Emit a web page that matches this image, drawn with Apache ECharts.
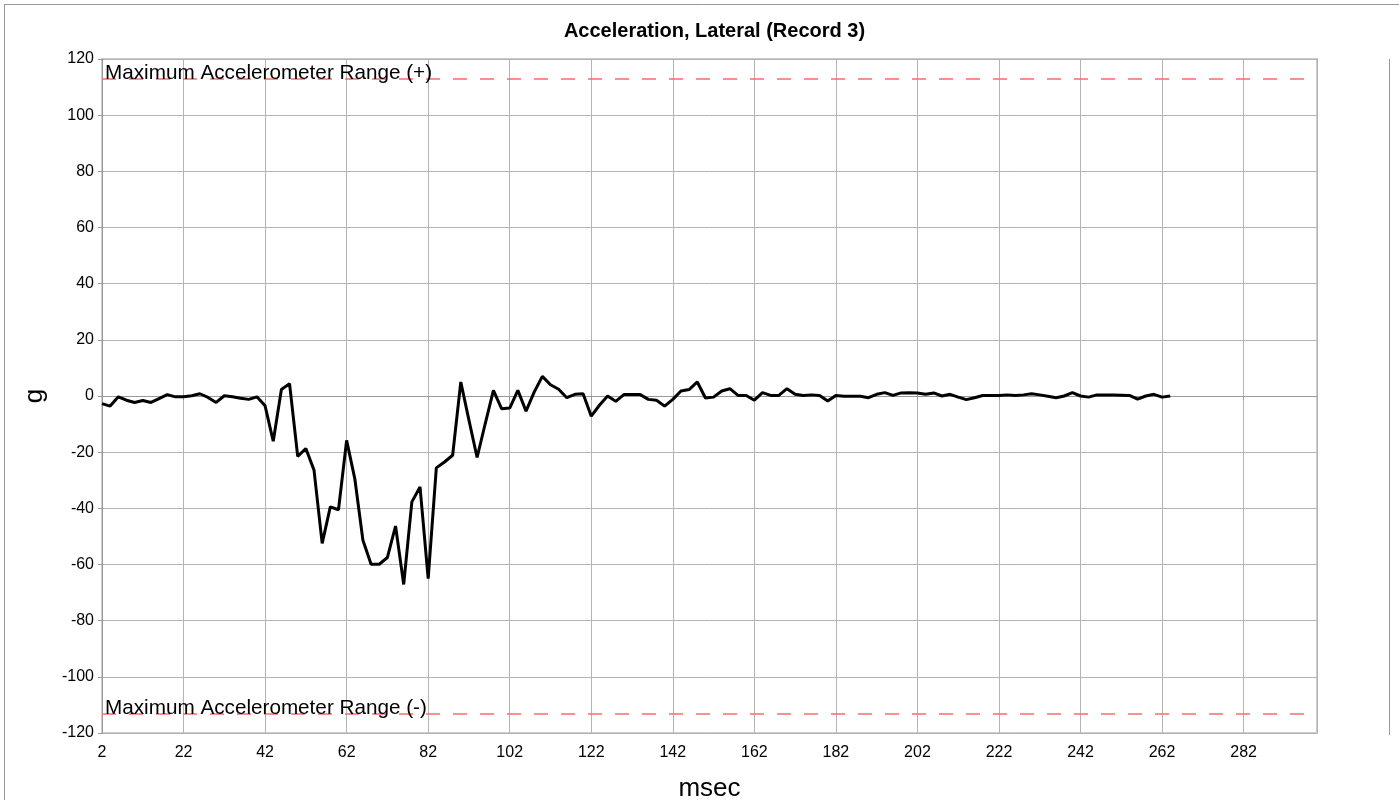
<!DOCTYPE html>
<html>
<head>
<meta charset="utf-8">
<script src="https://cdn.jsdelivr.net/npm/echarts@6/dist/echarts.min.js"></script>
<style>
  html, body { margin: 0; padding: 0; background: #fff; }
  #chart { width: 1399px; height: 800px; }
</style>
</head>
<body>
<div id="chart"></div>
<script>
  // sample times (msec)
  var msec = [
    2, 4, 6, 8, 10, 12, 14, 16, 18, 20, 22, 24, 26, 28, 30, 32, 34, 36, 38, 40,
    42, 44, 46, 48, 50, 52, 54, 56, 58, 60, 62, 64, 66, 68, 70, 72, 74, 76, 78, 80,
    82, 84, 86, 88, 90, 92, 94, 96, 98, 100, 102, 104, 106, 108, 110, 112, 114, 116, 118, 120,
    122, 124, 126, 128, 130, 132, 134, 136, 138, 140, 142, 144, 146, 148, 150, 152, 154, 156, 158, 160,
    162, 164, 166, 168, 170, 172, 174, 176, 178, 180, 182, 184, 186, 188, 190, 192, 194, 196, 198, 200,
    202, 204, 206, 208, 210, 212, 214, 216, 218, 220, 222, 224, 226, 228, 230, 232, 234, 236, 238, 240,
    242, 244, 246, 248, 250, 252, 254, 256, 258, 260, 262, 264
  ]
  // lateral acceleration (g)
  var accel = [
    -2.7, -3.6, -0.3, -1.5, -2.3, -1.6, -2.3, -0.9, 0.5, -0.3, -0.3, 0.1, 0.8, -0.5, -2.3, 0.1, -0.3, -0.8, -1.2, -0.3,
    -3.5, -16.1, 2.3, 4.4, -21.5, -18.7, -26.4, -52.5, -39.5, -40.5, -15.8, -29.4, -51.4, -59.9, -59.9, -57.5, -46.3, -67.1, -37.7, -32.4,
    -65, -25.6, -23.5, -21.1, 5.0, -8.6, -21.9, -9.8, 2.0, -4.5, -4.3, 2.0, -5.4, 1.4, 7.0, 4.0, 2.4, -0.6, 0.6, 0.8,
    -7.2, -3.3, 0, -1.9, 0.5, 0.5, 0.5, -1.2, -1.5, -3.6, -1.2, 1.8, 2.3, 5.0, -0.7, -0.4, 1.8, 2.6, 0.2, 0.2,
    -1.5, 1.2, 0.2, 0.2, 2.6, 0.6, 0.2, 0.4, 0.2, -1.8, 0.2, -0.1, -0.1, -0.1, -0.6, 0.6, 1.2, 0.2, 1.1, 1.2,
    1.1, 0.6, 1.1, 0, 0.6, -0.4, -1.3, -0.6, 0.2, 0.2, 0.2, 0.4, 0.2, 0.4, 0.8, 0.4, -0.1, -0.6, 0, 1.2,
    0, -0.4, 0.4, 0.4, 0.4, 0.3, 0.2, -1.1, 0, 0.6, -0.4, 0
  ]
  // accelerometer range limits
  var rangeLimits = [113, -113]
  var rangeLabels = ['Maximum Accelerometer Range (+)', 'Maximum Accelerometer Range (-)']

  var points = msec.map(function (t, i) { return [t, accel[i]] })

  var chart = echarts.init(document.getElementById('chart'))
  var option = {
    animation: false,
    textStyle: { fontFamily: 'Liberation Sans, Arial, sans-serif' },
    title: {
      text: 'Acceleration, Lateral (Record 3)',
      left: 709.5,
      textAlign: 'center',
      top: 16,
      textStyle: { fontSize: 20, fontWeight: 'bold', color: '#000', fontFamily: 'Liberation Sans, Arial, sans-serif' }
    },
    graphic: [
      { type: 'line', shape: { x1: 4.5, y1: 4, x2: 4.5, y2: 800 }, style: { stroke: '#999', lineWidth: 1 } },
      { type: 'line', shape: { x1: 4, y1: 4.5, x2: 1399, y2: 4.5 }, style: { stroke: '#999', lineWidth: 1 } },
      { type: 'line', shape: { x1: 1389.5, y1: 59, x2: 1389.5, y2: 735 }, style: { stroke: '#999', lineWidth: 1 } }
    ],
    grid: {
      left: 102, right: 82, top: 59, bottom: 67,
      show: true, borderColor: '#cccccc', borderWidth: 2,
      containLabel: false, outerBoundsMode: 'none'
    },
    xAxis: {
      type: 'value',
      min: 2, max: 300, interval: 20,
      name: 'msec',
      nameLocation: 'middle',
      nameGap: 43,
      nameTextStyle: { fontSize: 26, color: '#000' },
      axisLine: { lineStyle: { color: '#999', width: 1 } },
      axisTick: { show: true, length: 4, lineStyle: { color: '#999' } },
      axisLabel: { fontSize: 16, color: '#000', margin: 12, showMaxLabel: false },
      splitLine: { show: true, lineStyle: { color: '#b3b3b3', width: 1 } }
    },
    yAxis: {
      type: 'value',
      min: -120, max: 120, interval: 20,
      name: 'g',
      nameLocation: 'middle',
      nameGap: 54,
      nameTextStyle: { fontSize: 26, color: '#000' },
      axisLine: { show: true, lineStyle: { color: '#999', width: 1 } },
      axisTick: { show: true, length: 4, lineStyle: { color: '#999' } },
      axisLabel: { fontSize: 16, color: '#000', margin: 8 },
      splitLine: { show: true, lineStyle: { color: '#b3b3b3', width: 1 } }
    },
    series: [{
      type: 'line',
      data: points,
      showSymbol: false,
      symbol: 'none',
      lineStyle: { color: '#000', width: 3 },
      z: 5,
      markLine: {
        silent: true,
        symbol: 'none',
        lineStyle: { color: '#ff6b6b', width: 1.5, type: [14, 13] },
        label: {
          show: true,
          position: 'insideStartTop',
          distance: [3, -5],
          fontSize: 20.7,
          color: '#000',
          formatter: function (p) { return p.name }
        },
        data: rangeLimits.map(function (v, i) { return { yAxis: v, name: rangeLabels[i] } })
      }
    }]
  }
  chart.setOption(option)
</script>
</body>
</html>
